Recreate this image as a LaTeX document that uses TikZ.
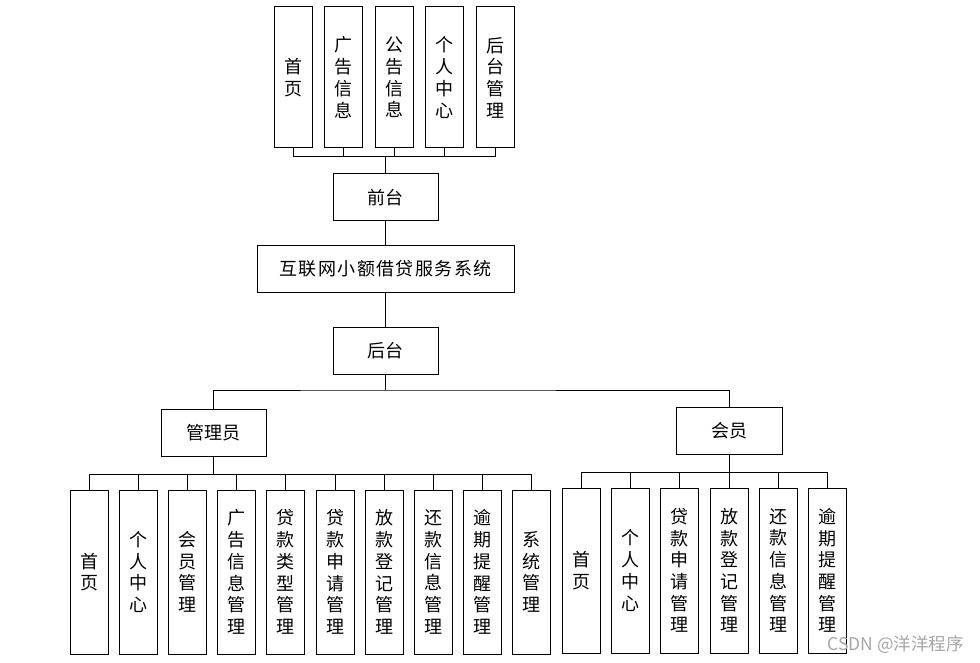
\documentclass[tikz,border=0pt]{standalone}
\usepackage{fontspec}
\setmainfont{Noto Sans CJK SC}
\newfontfamily\cjk{Noto Sans CJK SC}
\begin{document}
\begin{tikzpicture}[x=1pt,y=-1pt,
  box/.style={draw=black,line width=1pt,inner sep=0pt,font=\cjk\fontsize{18}{21.7}\selectfont,align=center},
  hbox/.style={box,minimum width=105pt,minimum height=47pt},
  vtop/.style={box,minimum width=38pt,minimum height=141pt},
  vlow/.style={box,minimum width=38pt,minimum height=164pt},
  conn/.style={draw=black,line width=1pt}]
\useasboundingbox (0,0) rectangle (980,663);
% top level
\node[vtop] (t1) at (293,77.5) {首\\页};
\node[vtop] (t2) at (343.5,77.5) {广\\告\\信\\息};
\node[vtop] (t3) at (394,77.5) {公\\告\\信\\息};
\node[vtop] (t4) at (444.5,77.5) {个\\人\\中\\心};
\node[vtop] (t5) at (495,77.5) {后\\台\\管\\理};
\node[hbox] (front) at (385.5,197.5) {前台};
\node[box,minimum width=257pt,minimum height=46pt] (main) at (385.5,269) {\addfontfeature{LetterSpace=8}互联网小额借贷服务系统};
\node[hbox] (back) at (385.5,350.5) {后台};
\node[hbox] (admin) at (213.5,432.5) {管理员};
\node[hbox,minimum width=106pt] (member) at (729,430.5) {会员};
% admin children
\node[vlow] (a1) at (89,572) {首\\页};
\node[vlow] (a2) at (138.2,572) {个\\人\\中\\心};
\node[vlow] (a3) at (187.4,572) {会\\员\\管\\理};
\node[vlow] (a4) at (236.6,572) {广\\告\\信\\息\\管\\理};
\node[vlow] (a5) at (285.8,572) {贷\\款\\类\\型\\管\\理};
\node[vlow] (a6) at (335,572) {贷\\款\\申\\请\\管\\理};
\node[vlow] (a7) at (384.2,572) {放\\款\\登\\记\\管\\理};
\node[vlow] (a8) at (433.4,572) {还\\款\\信\\息\\管\\理};
\node[vlow] (a9) at (482.6,572) {逾\\期\\提\\醒\\管\\理};
\node[vlow] (a10) at (531.8,572) {系\\统\\管\\理};
% member children
\node[vlow,minimum height=165pt] (m1) at (581.5,570.5) {首\\页};
\node[vlow,minimum height=165pt] (m2) at (630.7,570.5) {个\\人\\中\\心};
\node[vlow,minimum height=165pt] (m3) at (679.9,570.5) {贷\\款\\申\\请\\管\\理};
\node[vlow,minimum height=165pt] (m4) at (729.1,570.5) {放\\款\\登\\记\\管\\理};
\node[vlow,minimum height=165pt] (m5) at (778.3,570.5) {还\\款\\信\\息\\管\\理};
\node[vlow,minimum height=165pt] (m6) at (827.5,570.5) {逾\\期\\提\\醒\\管\\理};
% bus coordinates
\coordinate (tbus) at (385.5,157);
\coordinate (bbus) at (385.5,390);
\coordinate (abus) at (213.5,474);
\coordinate (mbus) at (729,472);
% connectors
\foreach \i in {1,...,5} {\draw[conn] (t\i.south) |- (tbus);}
\draw[conn] (tbus) -- (front.north);
\draw[conn] (front.south) -- (main.north);
\draw[conn] (main.south) -- (back.north);
\draw[conn] (back.south) -- (bbus);
\draw[conn] (admin.north) |- (bbus) -| (member.north);
\foreach \i in {1,...,10} {\draw[conn] (a\i.north) |- (abus);}
\draw[conn] (abus) -- (admin.south);
\foreach \i in {1,...,6} {\draw[conn] (m\i.north) |- (mbus);}
\draw[conn] (mbus) -- (member.south);
% watermark
\node[anchor=east,text=black!35,font=\cjk\fontsize{17.5}{18}\selectfont,inner sep=0pt] (wm) at (964,645) {CSDN @洋洋程序};
\end{tikzpicture}
\end{document}
